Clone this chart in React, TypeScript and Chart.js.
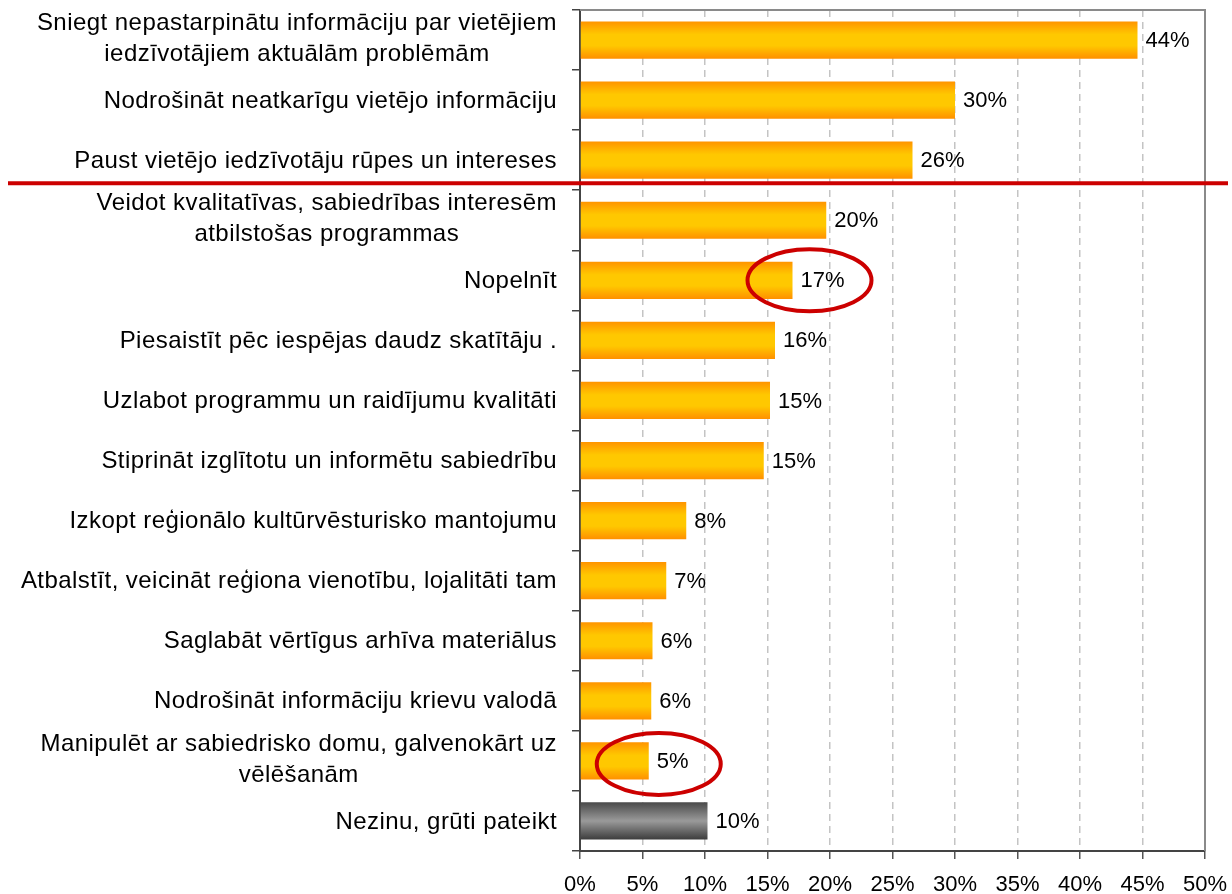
import React, { useEffect, useRef } from "react";
import { Chart, registerables } from "chart.js";

Chart.register(...registerables);

const categories: string[][] = [
  ["Sniegt nepastarpinātu informāciju par vietējiem", "iedzīvotājiem aktuālām problēmām"],
  ["Nodrošināt neatkarīgu vietējo informāciju"],
  ["Paust vietējo iedzīvotāju rūpes un intereses"],
  ["Veidot kvalitatīvas, sabiedrības interesēm", "atbilstošas programmas"],
  ["Nopelnīt"],
  ["Piesaistīt pēc iespējas daudz skatītāju ."],
  ["Uzlabot programmu un raidījumu kvalitāti"],
  ["Stiprināt izglītotu un informētu sabiedrību"],
  ["Izkopt reģionālo kultūrvēsturisko mantojumu"],
  ["Atbalstīt, veicināt reģiona vienotību, lojalitāti tam"],
  ["Saglabāt vērtīgus arhīva materiālus"],
  ["Nodrošināt informāciju krievu valodā"],
  ["Manipulēt ar sabiedrisko domu, galvenokārt uz", "vēlēšanām"],
  ["Nezinu, grūti pateikt"],
];

const values: number[] = [44.6, 30.0, 26.6, 19.7, 17.0, 15.6, 15.2, 14.7, 8.5, 6.9, 5.8, 5.7, 5.5, 10.2];
const valueLabels: string[] = ["44%", "30%", "26%", "20%", "17%", "16%", "15%", "15%", "8%", "7%", "6%", "6%", "5%", "10%"];
const xTickValues: number[] = [0, 5, 10, 15, 20, 25, 30, 35, 40, 45, 50];
const neutralIndex = 13;
const dividerAfterIndex = 2;
const circled = [
  { index: 4, dx: 17, dy: 0 },
  { index: 12, dx: 10, dy: 3 },
];

const FONT = "'Liberation Sans', Arial, sans-serif";
const BAR_PCT = 0.62;

export default function App() {
  const ref = useRef<HTMLCanvasElement | null>(null);

  useEffect(() => {
    if (!ref.current) return;

    const overlay = {
      id: "overlay",
      afterDraw(chart: any) {
        const { ctx, chartArea } = chart;
        const y = chart.scales.y;
        const meta = chart.getDatasetMeta(0);
        ctx.save();
        ctx.strokeStyle = "#8a8a8a";
        ctx.lineWidth = 2;
        ctx.beginPath();
        ctx.moveTo(chartArea.left, chartArea.top);
        ctx.lineTo(chartArea.right, chartArea.top);
        ctx.lineTo(chartArea.right, chartArea.bottom);
        ctx.stroke();

        ctx.fillStyle = "#000";
        ctx.font = `22px ${FONT}`;
        ctx.textAlign = "left";
        ctx.textBaseline = "middle";
        meta.data.forEach((el: any, i: number) => {
          ctx.fillText(valueLabels[i], el.x + 8, el.y + 1);
        });

        ctx.font = `24px ${FONT}`;
        try {
          (ctx as any).letterSpacing = "0.45px";
        } catch (e) {}
        ctx.textAlign = "center";
        const right = chartArea.left - 23;
        const lh = 31;
        categories.forEach((lines, i) => {
          const c = y.getPixelForValue(i) - (lines.length > 1 ? 2 : 0);
          let maxW = 0;
          lines.forEach((l) => (maxW = Math.max(maxW, ctx.measureText(l).width)));
          const cx = right - maxW / 2;
          const startY = c - ((lines.length - 1) * lh) / 2;
          lines.forEach((l, k) => ctx.fillText(l, cx, startY + k * lh + 1));
        });
        try {
          (ctx as any).letterSpacing = "0px";
        } catch (e) {}

        const by = (y.getPixelForValue(dividerAfterIndex) + y.getPixelForValue(dividerAfterIndex + 1)) / 2 - 7;
        ctx.strokeStyle = "#cc0000";
        ctx.lineWidth = 4;
        ctx.beginPath();
        ctx.moveTo(8, by);
        ctx.lineTo(chart.width - 4, by);
        ctx.stroke();

        ctx.lineWidth = 4;
        circled.forEach((c) => {
          const el: any = meta.data[c.index];
          ctx.beginPath();
          ctx.ellipse(el.x + c.dx, el.y + c.dy, 62, 31, 0, 0, Math.PI * 2);
          ctx.stroke();
        });
        ctx.restore();
      },
    };

    const chart = new Chart(ref.current, {
      type: "bar",
      data: {
        labels: categories.map((l) => l.join(" ")),
        datasets: [
          {
            data: values,
            barPercentage: BAR_PCT,
            categoryPercentage: 1,
            borderWidth: 0,
            backgroundColor: (context: any) => {
              const ch = context.chart;
              const y = ch.scales && ch.scales.y;
              const i = context.dataIndex;
              const neutral = i === neutralIndex;
              const fallback = neutral ? "#888" : "#ffc000";
              if (!y || context.type !== "data") return fallback;
              const c = y.getPixelForValue(i);
              const half = ((y.height / categories.length) * BAR_PCT) / 2;
              if (!isFinite(c) || !isFinite(half) || half <= 0) return fallback;
              const g = ch.ctx.createLinearGradient(0, c - half, 0, c + half);
              if (neutral) {
                g.addColorStop(0, "#4a4a4a");
                g.addColorStop(0.5, "#9a9a9a");
                g.addColorStop(1, "#3c3c3c");
              } else {
                g.addColorStop(0, "#ff9400");
                g.addColorStop(0.35, "#ffc800");
                g.addColorStop(0.65, "#ffc800");
                g.addColorStop(1, "#ff9000");
              }
              return g;
            },
          },
        ],
      },
      options: {
        indexAxis: "y",
        responsive: true,
        maintainAspectRatio: false,
        animation: false,
        layout: { padding: { left: 0, right: 27, top: 10, bottom: 0 } },
        plugins: {
          legend: { display: false },
          tooltip: { enabled: false },
          title: { display: false },
        },
        scales: {
          x: {
            type: "linear",
            min: 0,
            max: 50,
            afterBuildTicks: (s: any) => {
              s.ticks = xTickValues.map((v) => ({ value: v }));
            },
            afterFit: (s: any) => {
              s.height = 43;
              s.paddingLeft = 0;
              s.paddingRight = 0;
            },
            ticks: {
              color: "#000",
              font: { family: FONT, size: 22 },
              padding: 13,
              callback: (v: any) => `${v}%`,
              maxRotation: 0,
            },
            grid: {
              color: "#c4c4c4",
              lineWidth: 1.5,
              drawTicks: true,
              tickLength: 8,
              tickColor: "#555",
              tickWidth: 1.5,
              tickBorderDash: [],
            },
            border: { display: true, color: "#444", width: 2, dash: [7, 5] },
          },
          y: {
            type: "category",
            offset: true,
            afterFit: (s: any) => {
              s.width = 580;
              s.paddingTop = 0;
              s.paddingBottom = 0;
            },
            ticks: { display: false },
            grid: {
              offset: true,
              drawOnChartArea: false,
              drawTicks: true,
              tickLength: 8,
              color: "#444",
              lineWidth: 1.5,
            },
            border: { display: true, color: "#444", width: 2 },
          },
        },
      },
      plugins: [overlay],
    });

    return () => chart.destroy();
  }, []);

  return (
    <div style={{ position: "absolute", left: 0, top: 0, width: 1232, height: 894, background: "#fff" }}>
      <canvas ref={ref} />
    </div>
  );
}
